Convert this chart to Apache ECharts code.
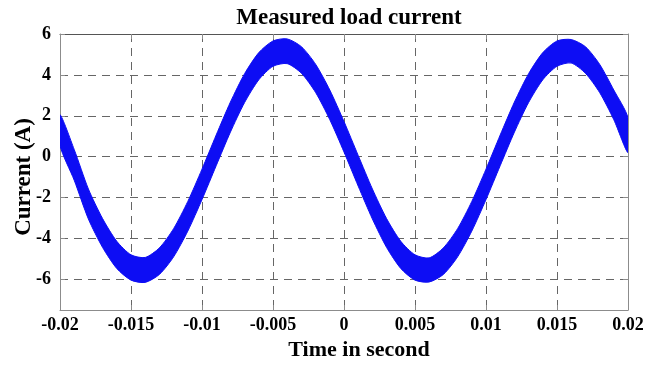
<!DOCTYPE html>
<html>
<head>
<meta charset="utf-8">
<script src="https://cdn.jsdelivr.net/npm/echarts@6/dist/echarts.min.js"></script>
<style>
  html, body { margin: 0; padding: 0; background: #ffffff; }
  #chart { width: 665px; height: 366px; }
</style>
</head>
<body>
<div id="chart"></div>
<script>
// Sample times (s), 1 ms apart
const timeS = [
  -0.020, -0.019, -0.018, -0.017, -0.016, -0.015, -0.014, -0.013, -0.012, -0.011,
  -0.010, -0.009, -0.008, -0.007, -0.006, -0.005, -0.004, -0.003, -0.002, -0.001,
   0.000,  0.001,  0.002,  0.003,  0.004,  0.005,  0.006,  0.007,  0.008,  0.009,
   0.010,  0.011,  0.012,  0.013,  0.014,  0.015,  0.016,  0.017,  0.018,  0.019,
   0.020
];

// Upper edge of the switching-ripple band (A)
const currentUpper = [
   2.05,  0.35, -1.58, -3.03, -4.14, -4.80, -4.93, -4.46, -3.52, -2.19,
  -0.61,  1.06,  2.67,  4.06,  5.09,  5.66,  5.76,  5.38,  4.52,  3.26,
   1.72,  0.06, -1.58, -3.03, -4.14, -4.80, -4.95, -4.46, -3.52, -2.19,
  -0.61,  1.06,  2.67,  4.06,  5.09,  5.66,  5.73,  5.38,  4.52,  3.26,
   1.90
];

// Lower edge of the switching-ripple band (A)
const currentLower = [
   0.55, -1.15, -3.05, -4.44, -5.47, -6.04, -6.15, -5.76, -4.90, -3.64,
  -2.10, -0.44,  1.20,  2.65,  3.76,  4.42,  4.55,  4.08,  3.14,  1.81,
   0.23, -1.44, -3.05, -4.44, -5.47, -6.04, -6.13, -5.76, -4.90, -3.64,
  -2.10, -0.44,  1.20,  2.65,  3.76,  4.42,  4.58,  4.08,  3.14,  1.81,
   0.20
];

const xTickLabels = ['-0.02', '-0.015', '-0.01', '-0.005', '0', '0.005', '0.01', '0.015', '0.02'];
const yTickValues = [-6, -4, -2, 0, 2, 4, 6];

// One row per sample: time, lower edge, upper edge
const bandRows = timeS.map((t, i) => [t, currentLower[i], currentUpper[i]]);

const serif = '"Liberation Serif", "Times New Roman", serif';
const BLUE = '#0d0df4';
const FRAME = '#8c8c8c';

const chart = echarts.init(document.getElementById('chart'), null, { renderer: 'canvas' });

const gridDash = { color: '#666666', width: 1, type: [8, 6] };

// Filled ripple band: upper edge left-to-right, then lower edge right-to-left
function renderBand(params, api) {
  if (params.dataIndex !== 0) return null;
  const upper = [];
  const lower = [];
  for (let i = 0; i < bandRows.length; i++) {
    upper.push(api.coord([bandRows[i][0], bandRows[i][2]]));
    lower.push(api.coord([bandRows[i][0], bandRows[i][1]]));
  }
  const clip = {
    x: params.coordSys.x, y: params.coordSys.y,
    width: params.coordSys.width, height: params.coordSys.height
  };
  return {
    type: 'group',
    children: [
      {
        type: 'polygon',
        shape: { points: upper.concat(lower.reverse()), smooth: 0.25 },
        style: { fill: BLUE, stroke: BLUE, lineWidth: 1 }
      }
    ],
    clipPath: { type: 'rect', shape: clip }
  };
}

chart.setOption({
  animation: false,
  backgroundColor: '#ffffff',
  title: {
    text: 'Measured load current',
    left: 344, top: 2, textAlign: 'center',
    textStyle: { fontFamily: serif, fontWeight: 'bold', fontSize: 23, color: '#000' }
  },
  grid: { left: 60, right: 37, top: 34, bottom: 56, containLabel: false, outerBoundsMode: 'none' },
  xAxis: [
    {
      type: 'value', position: 'bottom',
      min: -0.02, max: 0.02, interval: 0.005,
      name: 'Time in second', nameLocation: 'middle', nameGap: 29, nameMoveOverlap: false,
      nameTextStyle: { fontFamily: serif, fontWeight: 'bold', fontSize: 22, color: '#000', padding: [0, 0, 0, 30] },
      axisLine: { show: true, onZero: false, lineStyle: { color: FRAME, width: 1 } },
      axisTick: { show: true, inside: true, length: 5, lineStyle: { color: FRAME } },
      axisLabel: {
        margin: 6, fontFamily: serif, fontWeight: 'bold', fontSize: 18, color: '#000',
        formatter: (v) => {
          const idx = Math.round((v + 0.02) / 0.005);
          return xTickLabels[idx] !== undefined ? xTickLabels[idx] : '';
        }
      },
      splitLine: { show: true, lineStyle: gridDash }
    },
    {
      type: 'value', position: 'top',
      min: -0.02, max: 0.02, interval: 0.005,
      axisLine: { show: true, onZero: false, lineStyle: { color: '#555', width: 1 } },
      axisTick: { show: true, inside: true, length: 5, lineStyle: { color: FRAME } },
      axisLabel: { show: false },
      splitLine: { show: false }
    }
  ],
  yAxis: [
    {
      type: 'value', position: 'left',
      min: -7.5, max: 6, splitNumber: 7,
      name: 'Current (A)', nameLocation: 'middle', nameGap: 24, nameRotate: 90, nameMoveOverlap: false,
      nameTextStyle: { fontFamily: serif, fontWeight: 'bold', fontSize: 23, color: '#000', padding: [0, 10, 0, 0] },
      axisLine: { show: true, onZero: false, lineStyle: { color: FRAME, width: 1 } },
      axisTick: { show: true, inside: true, length: 5, lineStyle: { color: FRAME } },
      axisLabel: {
        margin: 9, fontFamily: serif, fontWeight: 'bold', fontSize: 18, color: '#000',
        showMinLabel: false,
        formatter: (v) => (yTickValues.indexOf(v) >= 0 ? String(v) : '')
      },
      splitLine: { show: true, lineStyle: gridDash }
    },
    {
      type: 'value', position: 'right',
      min: -7.5, max: 6, splitNumber: 7,
      axisLine: { show: true, onZero: false, lineStyle: { color: FRAME, width: 1 } },
      axisTick: { show: true, inside: true, length: 5, lineStyle: { color: FRAME } },
      axisLabel: { show: false },
      splitLine: { show: false }
    }
  ],
  series: [
    {
      name: 'Load current', type: 'custom',
      xAxisIndex: 0, yAxisIndex: 0,
      data: bandRows,
      encode: { x: 0, y: [1, 2] },
      renderItem: renderBand,
      z: 3
    }
  ]
});
</script>
</body>
</html>
